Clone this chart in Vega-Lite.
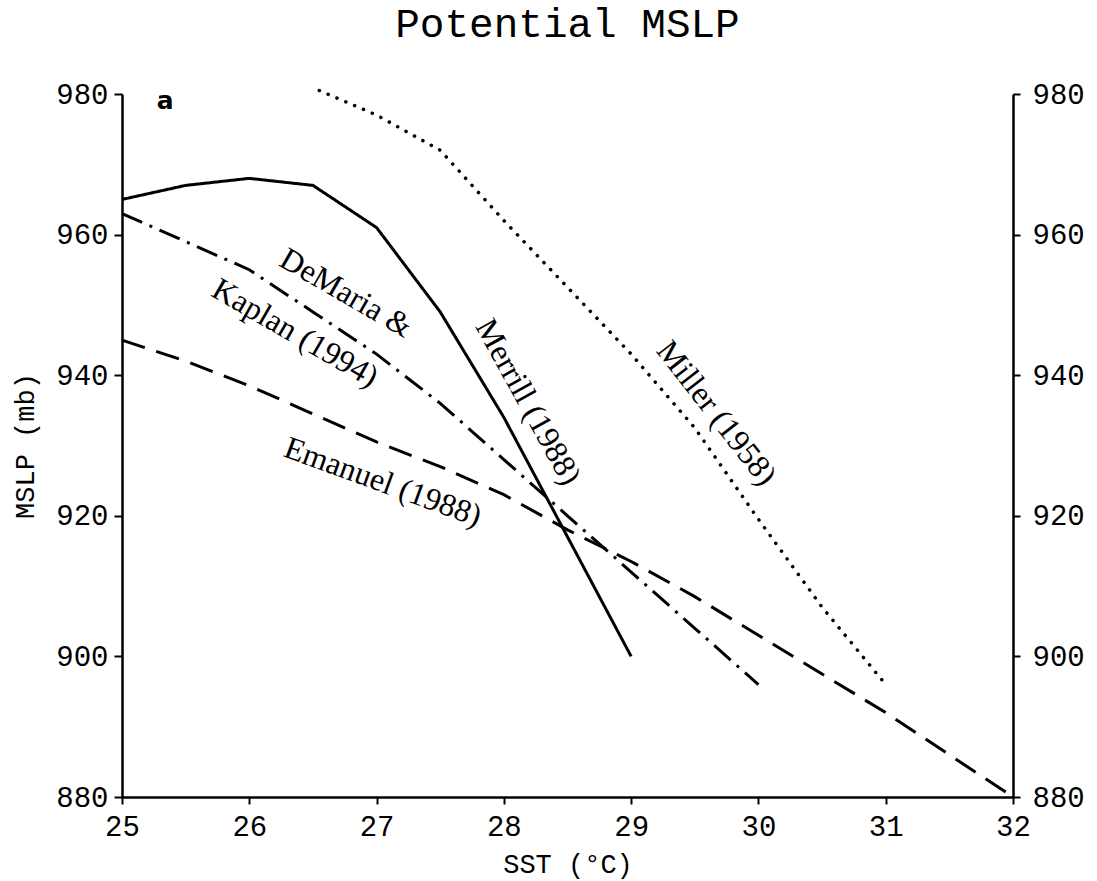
{
  "$schema": "https://vega.github.io/schema/vega-lite/v6.json",
  "width": 891,
  "height": 703,
  "autosize": "none",
  "padding": {"left": 122, "top": 94, "right": 84, "bottom": 84},
  "background": "white",
  "title": {"text": "Potential MSLP", "font": "Liberation Mono", "fontSize": 41, "fontWeight": "normal", "color": "black", "anchor": "middle", "offset": 34},
  "config": {
    "view": {"stroke": null},
    "axis": {"grid": false, "labelFlush": false, "labelOverlap": false, "domainColor": "black", "domainWidth": 2.5, "tickColor": "black", "tickWidth": 2, "labelColor": "black", "titleColor": "black", "labelFont": "Liberation Mono", "labelFontSize": 29, "titleFont": "Liberation Mono", "titleFontSize": 27, "titleFontWeight": "normal"}
  },
  "datasets": {
    "curves": [
      {"series": "Merrill", "sst": 25.0, "mslp": 965},
      {"series": "Merrill", "sst": 25.5, "mslp": 967},
      {"series": "Merrill", "sst": 26.0, "mslp": 968},
      {"series": "Merrill", "sst": 26.5, "mslp": 967},
      {"series": "Merrill", "sst": 27.0, "mslp": 961},
      {"series": "Merrill", "sst": 27.5, "mslp": 949},
      {"series": "Merrill", "sst": 28.0, "mslp": 934},
      {"series": "Merrill", "sst": 28.5, "mslp": 917},
      {"series": "Merrill", "sst": 29.0, "mslp": 900},
      {"series": "DeMaria", "sst": 25.0, "mslp": 963},
      {"series": "DeMaria", "sst": 25.5, "mslp": 959},
      {"series": "DeMaria", "sst": 26.0, "mslp": 955},
      {"series": "DeMaria", "sst": 26.5, "mslp": 949},
      {"series": "DeMaria", "sst": 27.0, "mslp": 943},
      {"series": "DeMaria", "sst": 27.5, "mslp": 936},
      {"series": "DeMaria", "sst": 28.0, "mslp": 928},
      {"series": "DeMaria", "sst": 28.5, "mslp": 920},
      {"series": "DeMaria", "sst": 29.0, "mslp": 912},
      {"series": "DeMaria", "sst": 29.5, "mslp": 904},
      {"series": "DeMaria", "sst": 30.0, "mslp": 896},
      {"series": "Emanuel", "sst": 25.0, "mslp": 945},
      {"series": "Emanuel", "sst": 25.5, "mslp": 942},
      {"series": "Emanuel", "sst": 26.0, "mslp": 938.5},
      {"series": "Emanuel", "sst": 26.5, "mslp": 934.5},
      {"series": "Emanuel", "sst": 27.0, "mslp": 930.5},
      {"series": "Emanuel", "sst": 27.5, "mslp": 927},
      {"series": "Emanuel", "sst": 28.0, "mslp": 923},
      {"series": "Emanuel", "sst": 28.5, "mslp": 918},
      {"series": "Emanuel", "sst": 29.0, "mslp": 913.5},
      {"series": "Emanuel", "sst": 29.5, "mslp": 908.5},
      {"series": "Emanuel", "sst": 30.0, "mslp": 903},
      {"series": "Emanuel", "sst": 30.5, "mslp": 897.5},
      {"series": "Emanuel", "sst": 31.0, "mslp": 892},
      {"series": "Emanuel", "sst": 31.5, "mslp": 886},
      {"series": "Emanuel", "sst": 32.0, "mslp": 880},
      {"series": "Miller", "sst": 26.55, "mslp": 980.5},
      {"series": "Miller", "sst": 27.0, "mslp": 977},
      {"series": "Miller", "sst": 27.5, "mslp": 972},
      {"series": "Miller", "sst": 28.0, "mslp": 962},
      {"series": "Miller", "sst": 28.5, "mslp": 952.5},
      {"series": "Miller", "sst": 29.0, "mslp": 943},
      {"series": "Miller", "sst": 29.5, "mslp": 932.5},
      {"series": "Miller", "sst": 30.0, "mslp": 919.5},
      {"series": "Miller", "sst": 30.5, "mslp": 907},
      {"series": "Miller", "sst": 31.0, "mslp": 896}
    ],
    "labels": [
      {"label": "DeMaria &", "sst": 26.76, "mslp": 951.7},
      {"label": "Kaplan (1994)", "sst": 26.36, "mslp": 946.0},
      {"label": "Emanuel (1988)", "sst": 27.05, "mslp": 924.8},
      {"label": "Merrill (1988)", "sst": 28.19, "mslp": 936.2},
      {"label": "Miller (1958)", "sst": 29.67, "mslp": 934.6},
      {"label": "a", "sst": 25.34, "mslp": 979.0}
    ]
  },
  "layer": [
    {
      "data": {"name": "curves"},
      "transform": [{"filter": "datum.series !== 'Miller'"}],
      "mark": {"type": "line", "color": "black", "strokeWidth": 3, "strokeCap": "butt", "clip": false},
      "encoding": {
        "x": {"field": "sst", "type": "quantitative", "scale": {"domain": [25, 32], "nice": false, "zero": false},
              "axis": {"values": [25, 26, 27, 28, 29, 30, 31, 32], "format": "d", "title": "SST (°C)", "tickSize": 7, "labelPadding": 8, "titlePadding": 10}},
        "y": {"field": "mslp", "type": "quantitative", "scale": {"domain": [880, 980], "nice": false, "zero": false},
              "axis": {"orient": "left", "values": [880, 900, 920, 940, 960, 980], "title": "MSLP (mb)", "tickSize": 8, "labelPadding": 6, "titlePadding": 16}},
        "detail": {"field": "series"},
        "strokeDash": {"field": "series", "type": "nominal", "legend": null,
                       "scale": {"domain": ["Merrill", "DeMaria", "Emanuel"], "range": [[1, 0], [22, 8, 3, 8], [24, 12]]}}
      }
    },
    {
      "data": {"name": "curves"},
      "transform": [{"filter": "datum.series === 'Miller'"}],
      "mark": {"type": "line", "color": "black", "strokeWidth": 3.5, "strokeCap": "round", "strokeDash": [0.1, 9.5], "clip": false},
      "encoding": {
        "x": {"field": "sst", "type": "quantitative"},
        "y": {"field": "mslp", "type": "quantitative",
              "axis": {"orient": "right", "values": [880, 900, 920, 940, 960, 980], "title": null, "tickSize": 7, "labelPadding": 12}}
      }
    },
    {
      "data": {"name": "labels"},
      "transform": [{"filter": "datum.label === 'DeMaria &' || datum.label === 'Kaplan (1994)'"}],
      "mark": {"type": "text", "font": "Liberation Serif", "fontSize": 32, "angle": 30, "align": "center", "baseline": "middle", "color": "black"},
      "encoding": {
        "x": {"field": "sst", "type": "quantitative"},
        "y": {"field": "mslp", "type": "quantitative", "axis": null},
        "text": {"field": "label"}
      }
    },
    {
      "data": {"name": "labels"},
      "transform": [{"filter": "datum.label === 'Emanuel (1988)'"}],
      "mark": {"type": "text", "font": "Liberation Serif", "fontSize": 32, "angle": 20, "align": "center", "baseline": "middle", "color": "black"},
      "encoding": {
        "x": {"field": "sst", "type": "quantitative"},
        "y": {"field": "mslp", "type": "quantitative", "axis": null},
        "text": {"field": "label"}
      }
    },
    {
      "data": {"name": "labels"},
      "transform": [{"filter": "datum.label === 'Merrill (1988)'"}],
      "mark": {"type": "text", "font": "Liberation Serif", "fontSize": 32, "angle": 61, "align": "center", "baseline": "middle", "color": "black"},
      "encoding": {
        "x": {"field": "sst", "type": "quantitative"},
        "y": {"field": "mslp", "type": "quantitative", "axis": null},
        "text": {"field": "label"}
      }
    },
    {
      "data": {"name": "labels"},
      "transform": [{"filter": "datum.label === 'Miller (1958)'"}],
      "mark": {"type": "text", "font": "Liberation Serif", "fontSize": 32, "angle": 52, "align": "center", "baseline": "middle", "color": "black"},
      "encoding": {
        "x": {"field": "sst", "type": "quantitative"},
        "y": {"field": "mslp", "type": "quantitative", "axis": null},
        "text": {"field": "label"}
      }
    },
    {
      "data": {"name": "labels"},
      "transform": [{"filter": "datum.label === 'a'"}],
      "mark": {"type": "text", "font": "DejaVu Sans", "fontSize": 25, "fontWeight": "bold", "align": "center", "baseline": "middle", "color": "black"},
      "encoding": {
        "x": {"field": "sst", "type": "quantitative"},
        "y": {"field": "mslp", "type": "quantitative", "axis": null},
        "text": {"field": "label"}
      }
    }
  ],
  "resolve": {"axis": {"y": "independent"}}
}
